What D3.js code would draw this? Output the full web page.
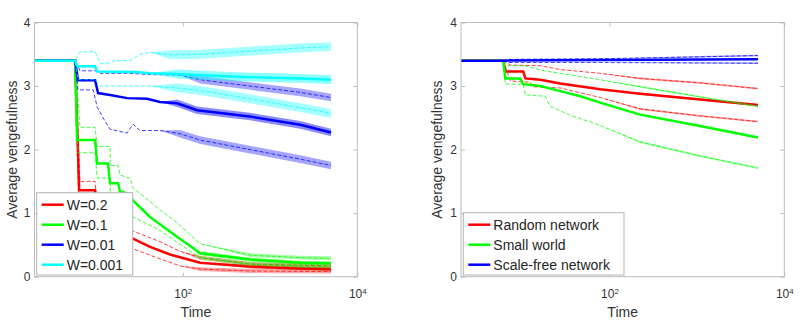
<!DOCTYPE html>
<html>
<head>
<meta charset="utf-8">
<script src="https://cdn.jsdelivr.net/npm/d3@7"></script>
<style>
  body { margin: 0; background: #fff; }
  svg { display: block; font-family: "Liberation Sans", Arial, sans-serif; }
</style>
</head>
<body>
<div id="chart"></div>
<script>
// ---- data: [time, average vengefulness] ----

// left panel: W values, mean and mean +/- spread
const wLabels = ["W=0.2", "W=0.1", "W=0.01", "W=0.001"];

const w02Mean = [[2,3.4],[5.84,3.4],[6.5,1.36],[9.9,1.36],[10.45,0.85],[26.9,0.6],[42.2,0.47],[71.5,0.35],[158,0.22],[588,0.16],[2214,0.13],[5000,0.12]];
const w02Up = [[2,3.4],[5.84,3.4],[6.65,1.5],[9.9,1.5],[10.45,1.0],[26.9,0.72],[55,0.55],[93,0.4],[158,0.3],[588,0.2],[2214,0.18],[5000,0.17]];
const w02Lo = [[2,3.4],[5.84,3.4],[6.4,1.2],[9.9,1.2],[10.45,0.7],[26.9,0.44],[55,0.28],[93,0.17],[158,0.12],[588,0.09],[5000,0.08]];

const w01Mean = [[2,3.4],[5.84,3.4],[6.15,2.15],[9.9,2.15],[10.45,1.78],[13.9,1.78],[14.7,1.47],[18.2,1.47],[19.1,1.34],[24.9,1.3],[26.9,1.2],[42.2,0.94],[86,0.63],[131,0.45],[158,0.37],[588,0.27],[2214,0.22],[5000,0.21]];
const w01Up = [[2,3.4],[5.84,3.4],[6.65,2.35],[9.9,2.35],[10.45,2.05],[14.7,2.05],[14.8,1.75],[18.2,1.75],[19.1,1.6],[24.9,1.55],[26.9,1.4],[55,1.05],[86,0.85],[158,0.52],[588,0.34],[2214,0.3],[5000,0.29]];
const w01Lo = [[2,3.4],[5.84,3.4],[6.3,1.95],[9.9,1.95],[10.45,1.55],[14.7,1.55],[14.8,1.25],[18.2,1.25],[19.1,1.12],[26.9,0.94],[55,0.73],[131,0.37],[158,0.3],[588,0.2],[2214,0.17],[5000,0.16]];

const w001Mean = [[2,3.4],[5.84,3.4],[6.3,3.09],[9.9,3.09],[10.7,2.89],[14.7,2.86],[23,2.81],[38.9,2.8],[55,2.75],[86,2.73],[146,2.62],[588,2.52],[2214,2.39],[5000,2.27]];
const w001Up = [[2,3.4],[5.84,3.4],[6.65,3.24],[10.2,3.24],[11.3,3.2],[24.9,3.2],[42.2,3.18],[93,3.17],[158,3.1],[588,3.0],[2214,2.9],[5000,2.82]];
const w001Lo = [[2,3.4],[5.84,3.4],[6.3,2.94],[9.4,2.94],[10.45,2.67],[12.2,2.5],[14.7,2.32],[23,2.26],[27,2.4],[32.2,2.3],[55,2.3],[93,2.25],[158,2.15],[588,2.0],[2214,1.85],[5000,1.75]];

const w0001Mean = [[2,3.4],[5.84,3.4],[6.2,3.31],[9.9,3.31],[10.45,3.23],[29.9,3.22],[42,3.2],[86,3.19],[158,3.17],[588,3.14],[2214,3.12],[5000,3.1]];
const w0001Up = [[2,3.4],[5.84,3.4],[6.65,3.54],[9.9,3.54],[11.3,3.36],[14.7,3.36],[16.5,3.4],[24.9,3.4],[32.2,3.5],[42.2,3.53],[71.5,3.49],[158,3.5],[588,3.55],[2214,3.6],[5000,3.62]];
const w0001Lo = [[2,3.4],[5.84,3.4],[6.3,3.1],[9.9,3.1],[11.3,3.0],[42.2,3.0],[86,2.97],[158,2.93],[588,2.8],[2214,2.66],[5000,2.57]];

// noise band half-width (value units) and the time it starts, per W
const wNoiseAmp = [0.03, 0.03, 0.06, 0.07];
const wNoiseFrom = [93, 93, 55, 42];

// right panel: network types
const netLabels = ["Random network", "Small world", "Scale-free network"];

const randMean = [[2,3.4],[6.1,3.4],[6.43,3.23],[10.3,3.23],[10.9,3.12],[16.2,3.1],[27.3,3.04],[78.3,2.95],[224,2.88],[1089,2.79],[5000,2.7]];
const randUp = [[2,3.4],[6.1,3.4],[7.33,3.33],[16.2,3.32],[27.3,3.26],[78.3,3.2],[224,3.12],[1089,3.05],[5000,2.96]];
const randLo = [[2,3.4],[6.1,3.4],[7.33,3.08],[12.4,3.06],[13.1,2.99],[27.3,2.97],[78.3,2.82],[224,2.64],[1089,2.53],[5000,2.44]];

const smallMean = [[2,3.4],[6.1,3.4],[6.43,3.12],[9.53,3.12],[10.3,3.03],[16.2,3.0],[27.3,2.92],[46.3,2.84],[78.3,2.74],[224,2.55],[1089,2.37],[5000,2.19]];
const smallUp = [[2,3.4],[6.1,3.4],[6.8,3.32],[10.9,3.32],[16.2,3.25],[27.3,3.2],[78.3,3.1],[224,2.99],[1089,2.83],[5000,2.68]];
const smallLo = [[2,3.4],[6.1,3.4],[6.43,3.03],[10.3,3.03],[10.9,2.86],[18.4,2.84],[21,2.68],[35.6,2.54],[78.3,2.38],[224,2.12],[1089,1.9],[5000,1.71]];

const scaleMean = [[2,3.4],[6.1,3.4],[78,3.41],[5000,3.42]];
const scaleUp = [[2,3.4],[6.1,3.4],[7,3.42],[78,3.43],[1089,3.46],[5000,3.48]];
const scaleLo = [[2,3.4],[6.1,3.4],[7,3.37],[78,3.37],[5000,3.36]];

const netNoiseAmp = [0.015, 0.015, 0.012];
const netNoiseFrom = [78, 78, 78];

const yTicks = [0, 1, 2, 3, 4];
const xTicks = [1e2, 1e4];
const xDomain = [2, 1e4];
const yDomain = [0, 4];

// ---- layout ----
const width = 800, height = 322;
const colors = ["#ff0000", "#00ff00", "#0000ff", "#00ffff"];
const netColors = ["#ff0000", "#00ff00", "#0000ff"];

const svg = d3.select('#chart').append('svg')
    .attr('width', width)
    .attr('height', height);

const leftSeries = wLabels.map((label, i) => ({
    label,
    color: colors[i],
    mean: [w02Mean, w01Mean, w001Mean, w0001Mean][i],
    up: [w02Up, w01Up, w001Up, w0001Up][i],
    lo: [w02Lo, w01Lo, w001Lo, w0001Lo][i],
    amp: wNoiseAmp[i],
    from: wNoiseFrom[i]
}));

const rightSeries = netLabels.map((label, i) => ({
    label,
    color: netColors[i],
    mean: [randMean, smallMean, scaleMean][i],
    up: [randUp, smallUp, scaleUp][i],
    lo: [randLo, smallLo, scaleLo][i],
    amp: netNoiseAmp[i],
    from: netNoiseFrom[i]
}));

function drawPanel(id, box, series, legendBox, ylabelX) {
    const g = svg.append('g').attr('id', id);

    const x = d3.scaleLog().domain(xDomain).range([box.x0, box.x1]);
    const y = d3.scaleLinear().domain(yDomain).range([box.y1, box.y0]);

    g.append('clipPath').attr('id', id + '-clip')
        .append('rect')
        .attr('x', box.x0).attr('y', box.y0)
        .attr('width', box.x1 - box.x0).attr('height', box.y1 - box.y0);

    const plot = g.append('g').attr('clip-path', `url(#${id}-clip)`);

    const line = d3.line().x(d => x(d[0])).y(d => y(d[1]));

    series.forEach(s => {
        [s.lo, s.up, s.mean].forEach((arr, k) => {
            // noisy tail drawn as a band; it opens up from zero width at its first point
            const noisy = arr.filter(d => d[0] >= s.from);
            if (noisy.length > 1) {
                const half = (d, i) => i === 0 ? 0 : s.amp;
                plot.append('path')
                    .datum(noisy)
                    .attr('fill', s.color)
                    .attr('opacity', k === 2 ? 0.45 : 0.35)
                    .attr('d', d3.area()
                        .x(d => x(d[0]))
                        .y0((d, i) => y(d[1] - half(d, i)))
                        .y1((d, i) => y(d[1] + half(d, i))));
            }
            plot.append('path')
                .datum(arr)
                .attr('fill', 'none')
                .attr('stroke', s.color)
                .attr('stroke-width', k === 2 ? 2.5 : 1)
                .attr('stroke-dasharray', k === 2 ? null : '4,2')
                .attr('opacity', k === 2 ? 1 : 0.75)
                .attr('d', line);
        });
    });

    // frame
    g.append('rect')
        .attr('x', box.x0).attr('y', box.y0)
        .attr('width', box.x1 - box.x0).attr('height', box.y1 - box.y0)
        .attr('fill', 'none')
        .attr('stroke', '#bcbcbc');

    // axes (ticks point inwards like matlab)
    g.append('g')
        .attr('transform', `translate(${box.x0},0)`)
        .call(d3.axisLeft(y).tickValues(yTicks).tickFormat(d3.format('d'))
            .tickSizeInner(-4).tickSizeOuter(0).tickPadding(4));
    g.append('g')
        .attr('transform', `translate(${box.x1},0)`)
        .call(d3.axisRight(y).tickValues(yTicks).tickFormat('')
            .tickSizeInner(-4).tickSizeOuter(0));

    const xAxis = g.append('g')
        .attr('transform', `translate(0,${box.y1})`)
        .call(d3.axisBottom(x).tickValues(xTicks)
            .tickSizeInner(-4).tickSizeOuter(0).tickPadding(13));
    g.append('g')
        .attr('transform', `translate(0,${box.y0})`)
        .call(d3.axisTop(x).tickValues(xTicks).tickFormat('')
            .tickSizeInner(-4).tickSizeOuter(0));

    g.selectAll('.domain').remove();
    g.selectAll('.tick line').attr('stroke', '#bcbcbc');
    g.selectAll('.tick text')
        .attr('fill', '#333')
        .attr('font-size', 12)
        .attr('font-family', '"Liberation Sans", Arial, sans-serif');

    xAxis.selectAll('.tick text').each(function (d) {
        const t = d3.select(this);
        t.text(null);
        t.append('tspan').text('10');
        t.append('tspan')
            .attr('dy', '-0.55em')
            .attr('font-size', 8)
            .text(Math.round(Math.log10(d)));
    });

    // labels
    g.append('text')
        .attr('x', (box.x0 + box.x1) / 2)
        .attr('y', 316.5)
        .attr('text-anchor', 'middle')
        .attr('font-size', 14)
        .attr('fill', '#333')
        .text('Time');

    g.append('text')
        .attr('transform', `translate(${ylabelX},${(box.y0 + box.y1) / 2}) rotate(-90)`)
        .attr('text-anchor', 'middle')
        .attr('dominant-baseline', 'central')
        .attr('font-size', 14)
        .attr('fill', '#333')
        .text('Average vengefulness');

    // legend
    const lg = g.append('g');
    lg.append('rect')
        .attr('x', legendBox.x).attr('y', legendBox.y)
        .attr('width', legendBox.w).attr('height', legendBox.h)
        .attr('fill', '#fff')
        .attr('stroke', '#b4b4b4');
    series.forEach((s, i) => {
        const cy = legendBox.y + 12 + i * 20;
        lg.append('line')
            .attr('x1', legendBox.x + 5).attr('x2', legendBox.x + 27)
            .attr('y1', cy).attr('y2', cy)
            .attr('stroke', s.color)
            .attr('stroke-width', 2.5);
        lg.append('text')
            .attr('x', legendBox.x + 30)
            .attr('y', cy)
            .attr('dominant-baseline', 'central')
            .attr('font-size', 14)
            .attr('fill', '#262626')
            .text(s.label);
    });
}

drawPanel('left', {x0: 34.5, x1: 357.3, y0: 22.5, y1: 276.7}, leftSeries,
    {x: 36.7, y: 192.7, w: 96, h: 82.3}, 12);
drawPanel('right', {x0: 461, x1: 784.3, y0: 22.5, y1: 276.7}, rightSeries,
    {x: 463.3, y: 212.7, w: 160.7, h: 62.3}, 437);
</script>
</body>
</html>
